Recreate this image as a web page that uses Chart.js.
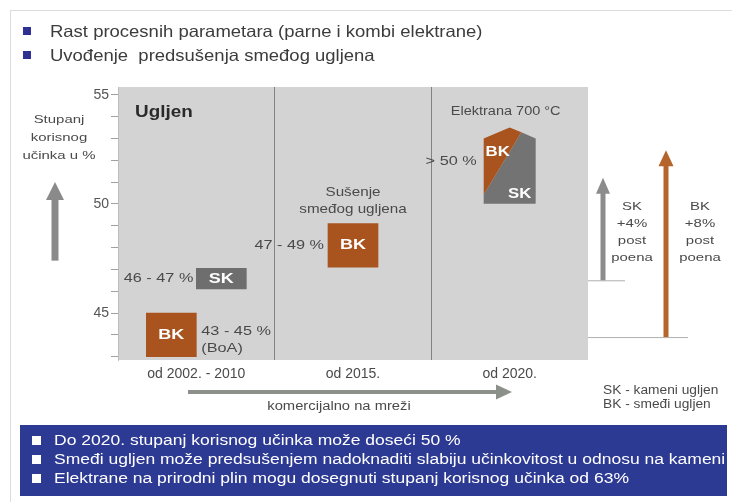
<!DOCTYPE html>
<html lang="hr">
<head>
<meta charset="UTF-8">
<title>Stupanj korisnog učinka</title>
<script src="https://cdn.jsdelivr.net/npm/chart.js"></script>
<style>
  body { margin: 0; background: #fff; font-family: 'Liberation Sans', Arial, sans-serif; }
  #wrap { position: relative; width: 732px; height: 502px; overflow: hidden; }
  #chart { position: absolute; left: 0; top: 0; }
  .frame { position: absolute; left: 10px; top: 10px; width: 740px; height: 500px;
           border-left: 1px solid #dcdcdc; border-top: 1px solid #dcdcdc; }
  .sq { position: absolute; left: 23px; width: 8px; height: 8px; background: #2e3192; }
  .head { position: absolute; left: 50px; font-size: 16.5px; color: #3c3c3c; line-height: 18px;
          white-space: pre; transform: scaleX(1.12); transform-origin: left center; }
  .foot { position: absolute; left: 20px; top: 425px; width: 707px; height: 71px; background: #2d3a93; }
  .foot i { position: absolute; left: 12px; width: 9px; height: 9px; background: #fff; }
  .foot p { position: absolute; left: 34px; margin: 0; color: #fff; font-size: 14px; line-height: 16px;
            white-space: nowrap; transform: scaleX(1.25); transform-origin: left center; }
</style>
</head>
<body>
<div id="wrap">
  <canvas id="chart" width="732" height="502"></canvas>
  <div class="frame"></div>
  <div class="sq" style="top:27px"></div>
  <div class="head" style="top:22px">Rast procesnih parametara (parne i kombi elektrane)</div>
  <div class="sq" style="top:51px"></div>
  <div class="head" style="top:46px">Uvođenje  predsušenja smeđog ugljena</div>
  <div class="foot">
    <i style="top:11px"></i><p style="top:7px">Do 2020. stupanj korisnog učinka može doseći 50 %</p>
    <i style="top:30px"></i><p style="top:26px">Smeđi ugljen može predsušenjem nadoknaditi slabiju učinkovitost u odnosu na kameni</p>
    <i style="top:49px"></i><p style="top:45px">Elektrane na prirodni plin mogu dosegnuti stupanj korisnog učinka od 63%</p>
  </div>
</div>

<script>
  // razdoblja i rasponi stupnja korisnog učinka (%)
  const periods = ['od 2002. - 2010', 'od 2015.', 'od 2020.'];
  const bkRange = [[43.0, 45.0], [47.1, 49.1], null];
  const skRange = [[46.1, 47.05], null, null];
  const plant700 = [null, null, [50.0, 53.5]];
  const bkText = ['43 - 45 %', '47 - 49 %', null];
  const skText = ['46 - 47 %', null, null];
  const plantText = '> 50 %';

  // dobitak u postotnim poenima (od - do)
  const skGain = [46.5, 51.2];
  const bkGain = [43.9, 52.45];

  const yLabels = [45, 50, 55];
  const yMinor = [43, 44, 45, 46, 47, 48, 49, 50, 51, 52, 53, 54, 55];

  const BROWN = '#a9531e';
  const DARK = '#6e6e6e';
  const FONT = "'Liberation Sans', Arial, sans-serif";

  Chart.defaults.font.family = FONT;

  function upArrow(ctx, x, yb, yt, shaft, hw, hh, color) {
    ctx.fillStyle = color;
    ctx.fillRect(x - shaft / 2, yt + hh - 1, shaft, yb - yt - hh + 1);
    ctx.beginPath();
    ctx.moveTo(x, yt);
    ctx.lineTo(x + hw / 2, yt + hh);
    ctx.lineTo(x - hw / 2, yt + hh);
    ctx.closePath();
    ctx.fill();
  }

  function rightArrow(ctx, xl, xr, y, shaft, hw, hh, color) {
    ctx.fillStyle = color;
    ctx.fillRect(xl, y - shaft / 2, xr - xl - hh + 1, shaft);
    ctx.beginPath();
    ctx.moveTo(xr, y);
    ctx.lineTo(xr - hh, y - hw / 2);
    ctx.lineTo(xr - hh, y + hw / 2);
    ctx.closePath();
    ctx.fill();
  }

  // tekst je u izvorniku vodoravno razvučen pa ga crtamo s faktorom sx
  function text(ctx, str, x, y, size, color, align, bold, sx) {
    ctx.save();
    ctx.translate(x, y);
    ctx.scale(sx || 1.25, 1);
    ctx.font = (bold ? 'bold ' : '') + size + 'px ' + FONT;
    ctx.fillStyle = color;
    ctx.textAlign = align || 'center';
    ctx.textBaseline = 'middle';
    ctx.fillText(str, 0, 0);
    ctx.restore();
  }

  const annotate = {
    id: 'annotate',
    beforeDraw(chart) {
      const { ctx, chartArea: a } = chart;
      ctx.save();
      ctx.fillStyle = '#d3d3d3';
      ctx.fillRect(a.left, a.top, a.right - a.left, a.bottom - a.top);
      ctx.restore();
    },
    afterDatasetsDraw(chart) {
      const { ctx, chartArea: a, scales: { y } } = chart;
      ctx.save();

      // BK / SK oznake u kvadratima i tekst uz njih
      chart.getDatasetMeta(0).data.forEach((bar, i) => {
        if (!bkRange[i]) return;
        const p = bar.getProps(['x', 'y', 'base', 'width'], true);
        const cy = (p.y + p.base) / 2;
        text(ctx, 'BK', p.x, cy, 15, '#fff', 'center', true, 1.2);
        if (i === 0) {
          text(ctx, bkText[i], p.x + p.width / 2 + 5, cy - 3, 13, '#4a4a4a', 'left');
          text(ctx, '(BoA)', p.x + p.width / 2 + 5, cy + 14, 13, '#4a4a4a', 'left');
        } else {
          text(ctx, bkText[i], p.x - p.width / 2 - 4, cy, 13, '#4a4a4a', 'right');
          text(ctx, 'Sušenje', p.x, p.y - 31, 13, '#4a4a4a', 'center', false, 1.17);
          text(ctx, 'smeđog ugljena', p.x, p.y - 14, 13, '#4a4a4a', 'center', false, 1.17);
        }
      });
      chart.getDatasetMeta(1).data.forEach((bar, i) => {
        if (!skRange[i]) return;
        const p = bar.getProps(['x', 'y', 'base', 'width'], true);
        const cy = (p.y + p.base) / 2;
        text(ctx, 'SK', p.x, cy, 15, '#fff', 'center', true, 1.2);
        text(ctx, skText[i], p.x - p.width / 2 - 3, cy, 13, '#4a4a4a', 'right');
      });

      // elektrana 700 °C - peterokut BK/SK
      chart.getDatasetMeta(2).data.forEach((bar, i) => {
        if (!plant700[i]) return;
        const p = bar.getProps(['x', 'y', 'base', 'width'], true);
        const l = p.x - p.width / 2, r = p.x + p.width / 2;
        const top = Math.min(p.y, p.base), bot = Math.max(p.y, p.base);
        const sh = top + 11;
        const mx = p.x + 0.45 * p.width / 2, my = top + 0.45 * 11;
        ctx.fillStyle = '#737373';
        ctx.beginPath();
        ctx.moveTo(mx, my); ctx.lineTo(r, sh); ctx.lineTo(r, bot);
        ctx.lineTo(l, bot); ctx.lineTo(l, bot - 9); ctx.closePath();
        ctx.fill();
        ctx.fillStyle = BROWN;
        ctx.beginPath();
        ctx.moveTo(p.x, top); ctx.lineTo(mx, my); ctx.lineTo(l, bot - 9);
        ctx.lineTo(l, sh); ctx.closePath();
        ctx.fill();
        text(ctx, 'BK', l + 14, top + 25, 14, '#fff', 'center', true, 1.2);
        text(ctx, 'SK', r - 16, bot - 10, 14, '#fff', 'center', true, 1.2);
        text(ctx, plantText, l - 7, (top + bot) / 2 - 4, 13, '#4a4a4a', 'right');
        text(ctx, 'Elektrana 700 °C', p.x - 4, top - 16, 12.5, '#4a4a4a', 'center', false, 1.16);
      });

      text(ctx, 'Ugljen', a.left + 17, a.top + 26, 16, '#2a2a2a', 'left', true, 1.18);

      // lijeva strelica i naslov osi
      text(ctx, 'Stupanj', 59, 120, 11.5, '#4a4a4a', 'center', false, 1.3);
      text(ctx, 'korisnog', 59, 138, 11.5, '#4a4a4a', 'center', false, 1.3);
      text(ctx, 'učinka u %', 59, 156, 11.5, '#4a4a4a', 'center', false, 1.3);
      upArrow(ctx, 55, y.getPixelForValue(47.4), y.getPixelForValue(51.0), 7, 18, 18, '#8a8a8a');

      // desne strelice: dobitak SK i BK
      const sx = a.right + 15, bx = a.right + 78;
      ctx.fillStyle = '#b0b0b0';
      ctx.fillRect(a.right, y.getPixelForValue(skGain[0]), 37, 1);
      ctx.fillRect(a.right, y.getPixelForValue(bkGain[0]), 100, 1);
      upArrow(ctx, sx, y.getPixelForValue(skGain[0]), y.getPixelForValue(skGain[1]), 5, 14, 16, '#8c8c8c');
      upArrow(ctx, bx, y.getPixelForValue(bkGain[0]), y.getPixelForValue(bkGain[1]), 5, 15, 16, '#b5642c');
      ['SK', '+4%', 'post', 'poena'].forEach((s, k) => text(ctx, s, sx + 29, 207 + k * 17, 11.5, '#4a4a4a', 'center', false, 1.3));
      ['BK', '+8%', 'post', 'poena'].forEach((s, k) => text(ctx, s, bx + 34, 207 + k * 17, 11.5, '#4a4a4a', 'center', false, 1.3));

      // vremenska strelica
      rightArrow(ctx, a.left + 70, a.left + 394, a.bottom + 32, 4, 15, 16, '#8b9088');
      text(ctx, 'komercijalno na mreži', a.left + 221, a.bottom + 47, 12.5, '#4a4a4a', 'center', false, 1.18);

      text(ctx, 'SK - kameni ugljen', a.right + 15, a.bottom + 31, 12.5, '#4a4a4a', 'left', false, 1.1);
      text(ctx, 'BK - smeđi ugljen', a.right + 15, a.bottom + 45, 12.5, '#4a4a4a', 'left', false, 1.1);
      ctx.restore();
    }
  };

  new Chart(document.getElementById('chart'), {
    type: 'bar',
    data: {
      labels: periods,
      datasets: [
        { label: 'BK', data: bkRange, backgroundColor: BROWN, barThickness: 50, skipNull: true },
        { label: 'SK', data: skRange, backgroundColor: DARK, barThickness: 50, skipNull: true },
        { label: 'Elektrana 700 °C', data: plant700, backgroundColor: 'rgba(0,0,0,0)', barThickness: 52, skipNull: true }
      ]
    },
    options: {
      responsive: false,
      animation: false,
      layout: { padding: { left: 88, right: 144, top: 87, bottom: 118 } },
      plugins: { legend: { display: false }, tooltip: { enabled: false } },
      scales: {
        x: {
          afterFit: s => { s.height = 24; },
          ticks: { color: '#4a4a4a', font: { size: 14 }, padding: 6 },
          grid: {
            offset: true,
            drawTicks: false,
            color: c => (c.index === 1 || c.index === 2) ? '#828282' : 'rgba(0,0,0,0)'
          },
          border: { display: false }
        },
        y: {
          min: 42.85,
          max: 55.35,
          afterFit: s => { s.width = 30; },
          afterBuildTicks: s => { s.ticks = yMinor.map(v => ({ value: v })); },
          ticks: {
            color: '#555',
            font: { size: 14 },
            padding: 2,
            callback: v => yLabels.includes(v) ? String(v) : ''
          },
          grid: { drawOnChartArea: false, tickLength: 7, color: '#a0a0a0' },
          border: { color: '#bdbdbd' }
        }
      }
    },
    plugins: [annotate]
  });
</script>
</body>
</html>
